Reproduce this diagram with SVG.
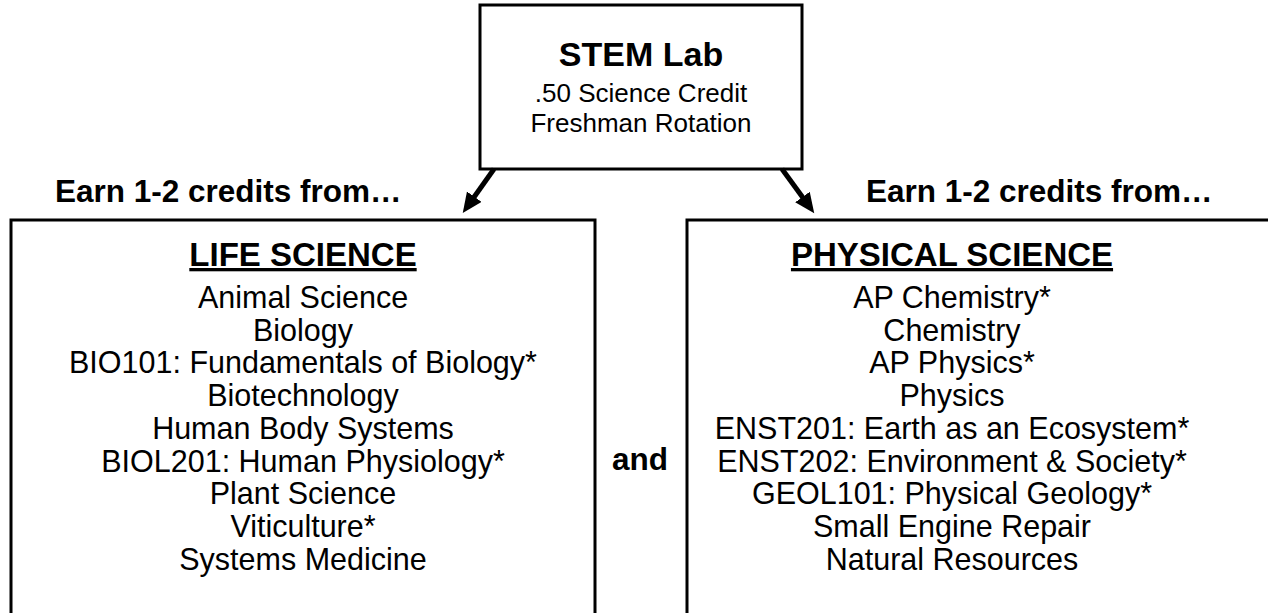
<svg xmlns="http://www.w3.org/2000/svg" width="1268" height="613" viewBox="0 0 1268 613" font-family="'Liberation Sans', Arimo, Arial, sans-serif">
<style>
text{font-family:"Liberation Sans",Arimo,Arial,sans-serif;fill:#000}
.box{fill:#fff;stroke:#000;stroke-width:3}
.t{font-size:34px;font-weight:bold;text-anchor:middle}
.s{font-size:26px;text-anchor:middle}
.h{font-size:33px;font-weight:bold;text-anchor:middle;text-decoration:underline}
.i{font-size:30.5px;text-anchor:middle}
.lbl{font-size:31.5px;font-weight:bold}
.arr{stroke:#000;stroke-width:5;fill:none;marker-end:url(#ah)}
</style>
<defs>
<marker id="ah" markerUnits="userSpaceOnUse" markerWidth="22" markerHeight="20" refX="4" refY="9" orient="auto">
<path d="M0,0 L20,9 L0,18 z" fill="#000"/>
</marker>
</defs>
<rect width="1268" height="613" fill="#fff"/>
<g id="stem">
<rect class="box" x="480" y="5" width="322" height="164"/>
<text class="t" x="641" y="66">STEM Lab</text>
<text class="s" x="641" y="102">.50 Science Credit</text>
<text class="s" x="641" y="132">Freshman Rotation</text>
</g>
<g id="connectors">
<line class="arr" x1="494" y1="169" x2="472" y2="200"/>
<line class="arr" x1="782" y1="169" x2="804.8" y2="200.3"/>
</g>
<g id="labels">
<text class="lbl" x="55" y="202">Earn 1-2 credits from…</text>
<text class="lbl" x="866" y="202">Earn 1-2 credits from…</text>
<text class="lbl" x="640" y="470" text-anchor="middle">and</text>
</g>
<g id="life">
<rect class="box" x="11" y="220" width="584" height="420"/>
<text class="h" x="303" y="266">LIFE SCIENCE</text>
<text class="i" x="303" y="308">Animal Science</text>
<text class="i" x="303" y="341">Biology</text>
<text class="i" x="303" y="373">BIO101: Fundamentals of Biology*</text>
<text class="i" x="303" y="406">Biotechnology</text>
<text class="i" x="303" y="439">Human Body Systems</text>
<text class="i" x="303" y="472">BIOL201: Human Physiology*</text>
<text class="i" x="303" y="504">Plant Science</text>
<text class="i" x="303" y="537">Viticulture*</text>
<text class="i" x="303" y="570">Systems Medicine</text>
</g>
<g id="physical">
<rect class="box" x="687" y="220" width="620" height="420"/>
<text class="h" x="952" y="266">PHYSICAL SCIENCE</text>
<text class="i" x="952" y="308">AP Chemistry*</text>
<text class="i" x="952" y="341">Chemistry</text>
<text class="i" x="952" y="373">AP Physics*</text>
<text class="i" x="952" y="406">Physics</text>
<text class="i" x="952" y="439">ENST201: Earth as an Ecosystem*</text>
<text class="i" x="952" y="472">ENST202: Environment &amp; Society*</text>
<text class="i" x="952" y="504">GEOL101: Physical Geology*</text>
<text class="i" x="952" y="537">Small Engine Repair</text>
<text class="i" x="952" y="570">Natural Resources</text>
</g>
</svg>
